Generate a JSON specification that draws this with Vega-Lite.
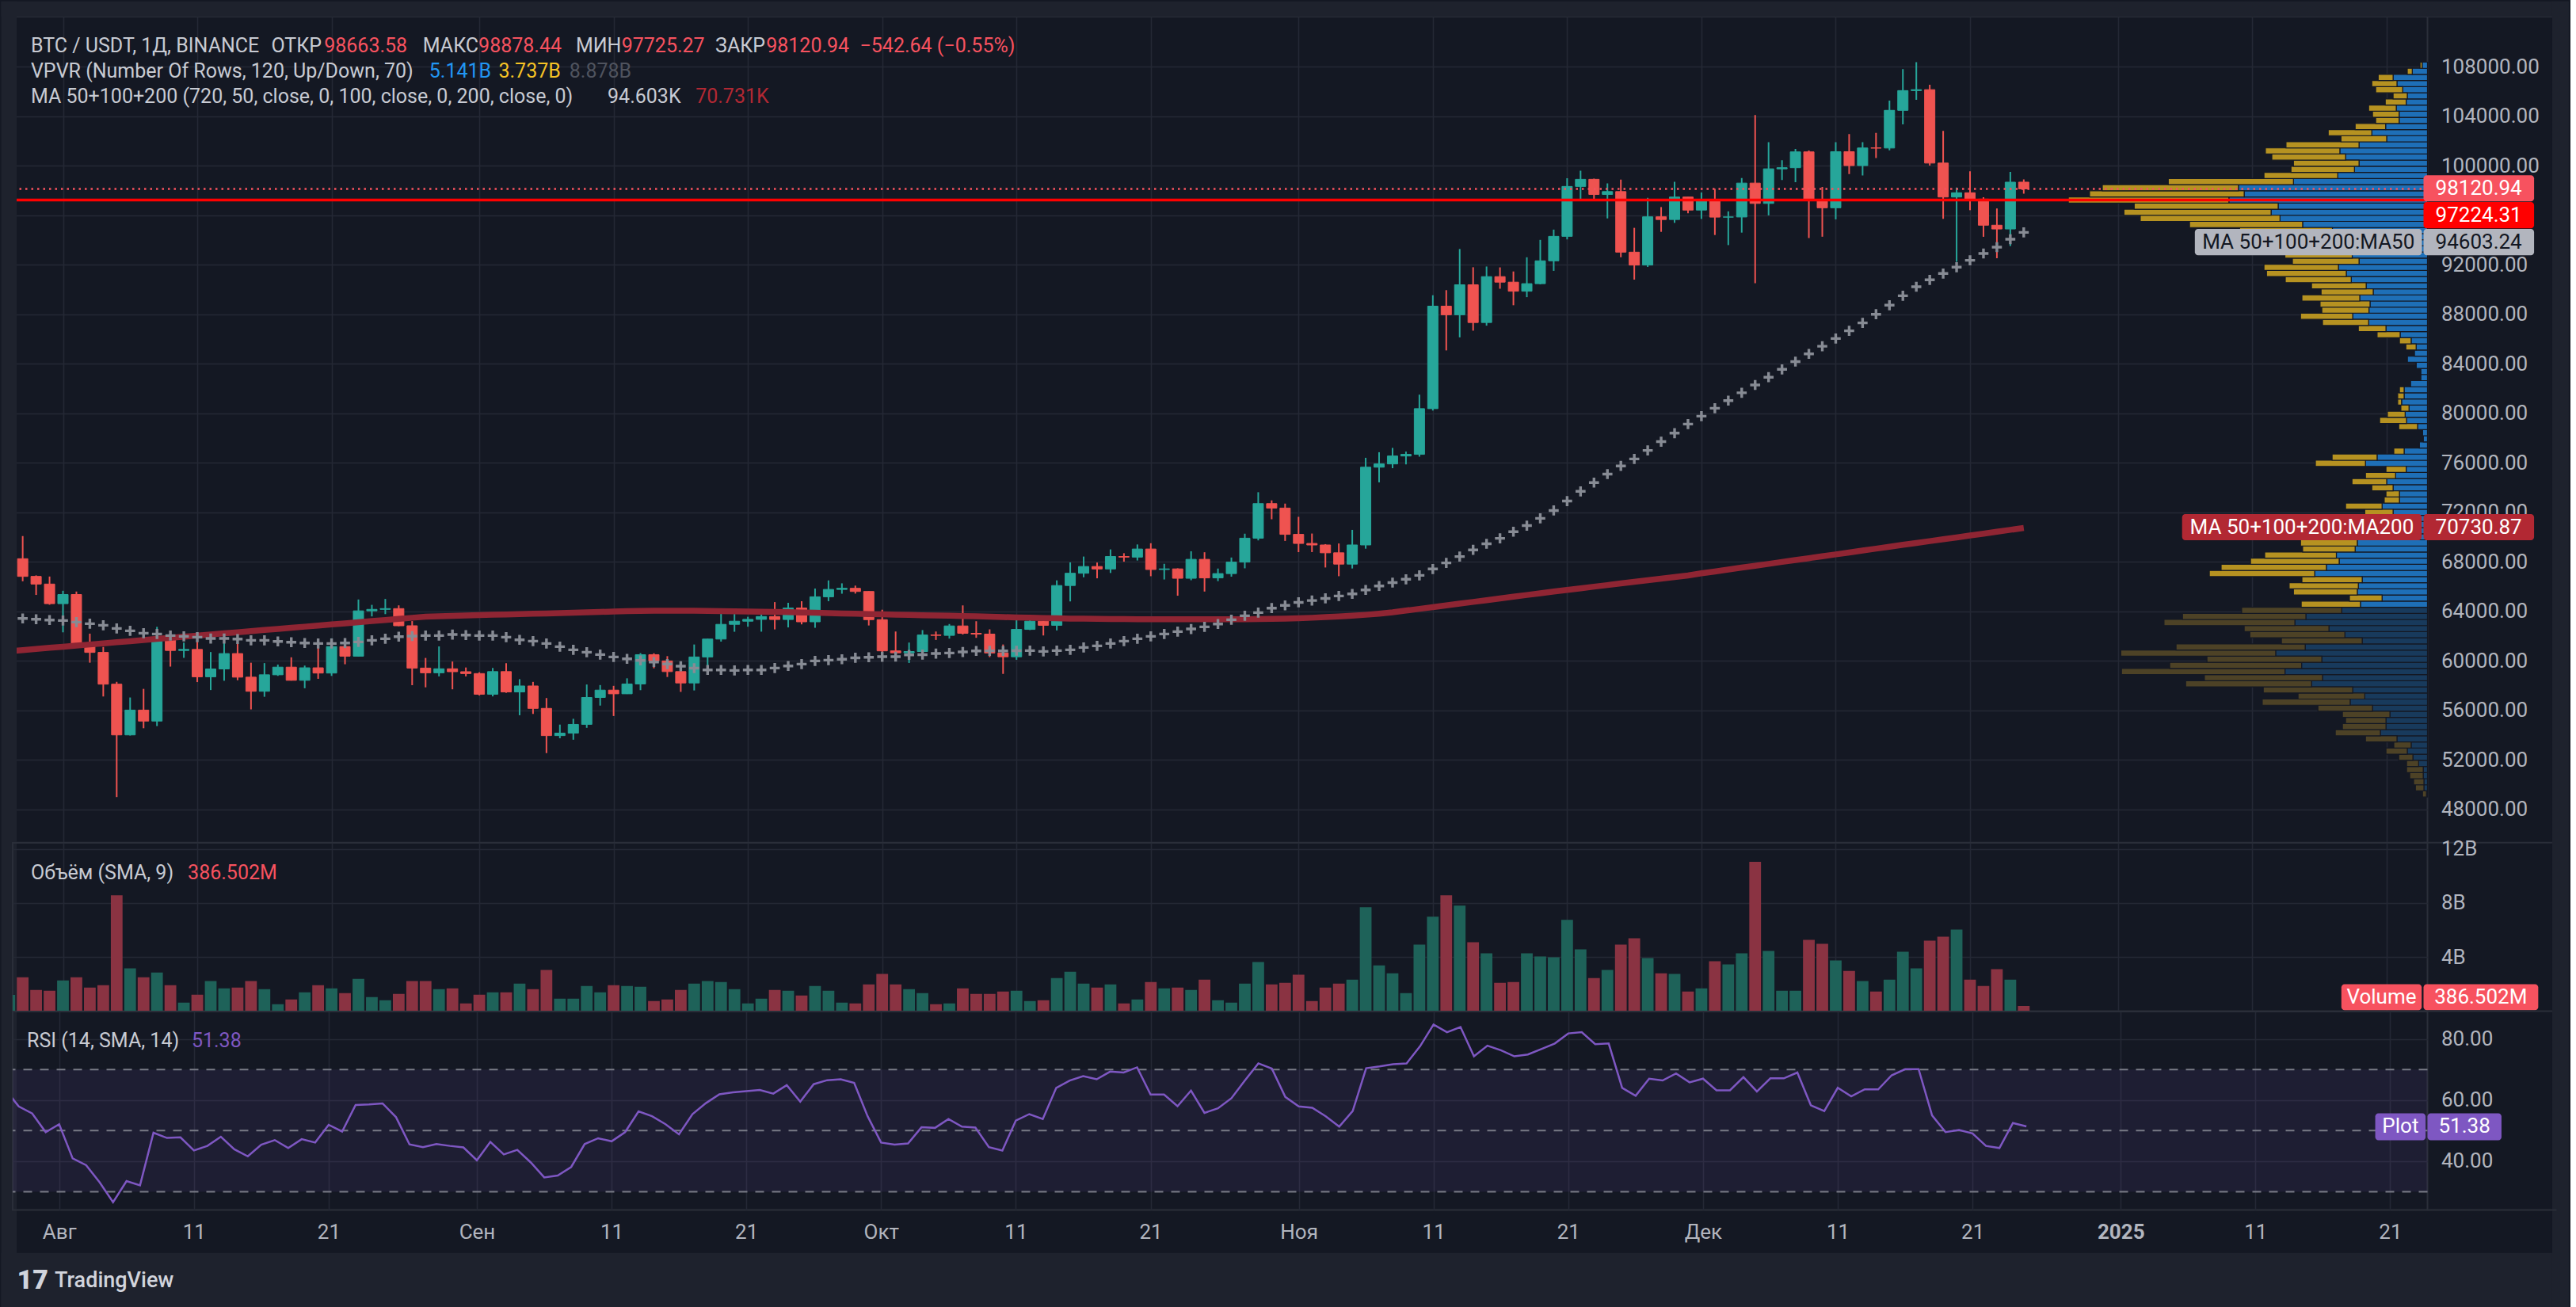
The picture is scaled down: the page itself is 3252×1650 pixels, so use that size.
{
  "$schema": "https://vega.github.io/schema/vega-lite/v6.json",
  "padding": 0,
  "background": "#141823",
  "config": {
    "view": {"stroke": "#2a2e39", "strokeWidth": 2},
    "axis": {"labelFont": "Roboto", "labelFontSize": 26, "labelColor": "#b2b5be", "gridColor": "#242835", "gridWidth": 1.5, "domain": false, "ticks": false, "tickSize": 0, "labelOverlap": false, "labelFlush": false},
    "text": {"font": "Roboto"}
  },
  "datasets": {
    "daily": [
      {"d":"2024-07-28","o":67896,"h":68318,"l":67066,"c":68249,"v":1.2,"r":63.5,"m50":63480,"m200":60780},
      {"d":"2024-07-29","o":68249,"h":70079,"l":66428,"c":66819,"v":2.51,"r":57.9,"m50":63426,"m200":60870},
      {"d":"2024-07-30","o":66819,"h":66900,"l":65323,"c":66201,"v":1.57,"r":55.6,"m50":63362,"m200":60960},
      {"d":"2024-07-31","o":66201,"h":66810,"l":64532,"c":64619,"v":1.51,"r":49.5,"m50":63298,"m200":61050},
      {"d":"2024-08-01","o":64619,"h":65659,"l":62302,"c":65357,"v":2.27,"r":52.1,"m50":63255,"m200":61140},
      {"d":"2024-08-02","o":65357,"h":65596,"l":61130,"c":61415,"v":2.51,"r":40.9,"m50":63130,"m200":61230},
      {"d":"2024-08-03","o":61415,"h":62198,"l":59850,"c":60680,"v":1.75,"r":38.7,"m50":63000,"m200":61320},
      {"d":"2024-08-04","o":60680,"h":61122,"l":57122,"c":58116,"v":1.92,"r":33.1,"m50":62871,"m200":61410},
      {"d":"2024-08-05","o":58116,"h":58305,"l":49000,"c":54018,"v":8.57,"r":26.6,"m50":62615,"m200":61500},
      {"d":"2024-08-06","o":54018,"h":57040,"l":53968,"c":56022,"v":3.16,"r":33.5,"m50":62423,"m200":61590},
      {"d":"2024-08-07","o":56022,"h":57736,"l":54558,"c":55134,"v":2.51,"r":32.1,"m50":62231,"m200":61680},
      {"d":"2024-08-08","o":55134,"h":62745,"l":54730,"c":61685,"v":2.86,"r":49.3,"m50":62167,"m200":61770},
      {"d":"2024-08-09","o":61686,"h":61744,"l":59535,"c":60837,"v":1.92,"r":47.6,"m50":62039,"m200":61860},
      {"d":"2024-08-10","o":60837,"h":61470,"l":60242,"c":60923,"v":0.63,"r":47.8,"m50":61975,"m200":61950},
      {"d":"2024-08-11","o":60923,"h":61858,"l":58286,"c":58712,"v":1.22,"r":43.5,"m50":61911,"m200":62040},
      {"d":"2024-08-12","o":58712,"h":60711,"l":57642,"c":59346,"v":2.22,"r":45.0,"m50":61804,"m200":62130},
      {"d":"2024-08-13","o":59346,"h":61578,"l":58392,"c":60587,"v":1.69,"r":48.0,"m50":61804,"m200":62220},
      {"d":"2024-08-14","o":60587,"h":61800,"l":58433,"c":58683,"v":1.75,"r":43.9,"m50":61762,"m200":62310},
      {"d":"2024-08-15","o":58683,"h":59849,"l":56078,"c":57541,"v":2.22,"r":41.6,"m50":61655,"m200":62400},
      {"d":"2024-08-16","o":57541,"h":59817,"l":57098,"c":58874,"v":1.63,"r":45.4,"m50":61655,"m200":62490},
      {"d":"2024-08-17","o":58874,"h":59700,"l":58786,"c":59491,"v":0.51,"r":46.9,"m50":61570,"m200":62580},
      {"d":"2024-08-18","o":59491,"h":60284,"l":58408,"c":58427,"v":0.86,"r":44.3,"m50":61506,"m200":62670},
      {"d":"2024-08-19","o":58427,"h":59617,"l":57787,"c":59438,"v":1.39,"r":47.2,"m50":61442,"m200":62760},
      {"d":"2024-08-20","o":59438,"h":61400,"l":58548,"c":59013,"v":1.92,"r":46.1,"m50":61399,"m200":62850},
      {"d":"2024-08-21","o":59013,"h":61820,"l":58783,"c":61156,"v":1.69,"r":51.9,"m50":61399,"m200":62940},
      {"d":"2024-08-22","o":61156,"h":61400,"l":59724,"c":60375,"v":1.33,"r":49.7,"m50":61442,"m200":63030},
      {"d":"2024-08-23","o":60375,"h":64955,"l":60342,"c":64037,"v":2.39,"r":58.4,"m50":61530,"m200":63120},
      {"d":"2024-08-24","o":64037,"h":64522,"l":63590,"c":64157,"v":1.04,"r":58.6,"m50":61655,"m200":63210},
      {"d":"2024-08-25","o":64157,"h":65000,"l":63773,"c":64220,"v":0.80,"r":58.9,"m50":61783,"m200":63300},
      {"d":"2024-08-26","o":64219,"h":64481,"l":62800,"c":62834,"v":1.27,"r":54.4,"m50":61954,"m200":63390},
      {"d":"2024-08-27","o":62834,"h":63212,"l":58034,"c":59415,"v":2.22,"r":45.5,"m50":62000,"m200":63480},
      {"d":"2024-08-28","o":59415,"h":60234,"l":57860,"c":59034,"v":2.22,"r":44.6,"m50":62039,"m200":63570},
      {"d":"2024-08-29","o":59034,"h":61166,"l":58745,"c":59359,"v":1.63,"r":45.6,"m50":62040,"m200":63600},
      {"d":"2024-08-30","o":59359,"h":59944,"l":57701,"c":59123,"v":1.69,"r":45.0,"m50":62125,"m200":63630},
      {"d":"2024-08-31","o":59123,"h":59462,"l":58744,"c":58973,"v":0.57,"r":44.5,"m50":62082,"m200":63660},
      {"d":"2024-09-01","o":58974,"h":59076,"l":57201,"c":57301,"v":1.22,"r":40.3,"m50":62040,"m200":63690},
      {"d":"2024-09-02","o":57301,"h":59425,"l":57128,"c":59132,"v":1.39,"r":46.3,"m50":62040,"m200":63720},
      {"d":"2024-09-03","o":59132,"h":59809,"l":57415,"c":57487,"v":1.39,"r":42.2,"m50":61912,"m200":63750},
      {"d":"2024-09-04","o":57487,"h":58520,"l":55606,"c":57971,"v":2.04,"r":43.7,"m50":61698,"m200":63775},
      {"d":"2024-09-05","o":57971,"h":58300,"l":55712,"c":56160,"v":1.63,"r":39.6,"m50":61592,"m200":63800},
      {"d":"2024-09-06","o":56160,"h":56995,"l":52550,"c":53962,"v":3.04,"r":34.7,"m50":61400,"m200":63830},
      {"d":"2024-09-07","o":53962,"h":54850,"l":53745,"c":54160,"v":0.92,"r":35.3,"m50":61144,"m200":63860},
      {"d":"2024-09-08","o":54160,"h":55318,"l":53629,"c":54869,"v":0.92,"r":38.1,"m50":60888,"m200":63890},
      {"d":"2024-09-09","o":54869,"h":58088,"l":54591,"c":57042,"v":1.86,"r":45.6,"m50":60696,"m200":63920},
      {"d":"2024-09-10","o":57042,"h":58044,"l":56386,"c":57635,"v":1.39,"r":47.5,"m50":60504,"m200":63950},
      {"d":"2024-09-11","o":57635,"h":57981,"l":55545,"c":57338,"v":1.92,"r":46.5,"m50":60312,"m200":63980},
      {"d":"2024-09-12","o":57338,"h":58588,"l":57324,"c":58132,"v":1.86,"r":49.5,"m50":60162,"m200":64010},
      {"d":"2024-09-13","o":58132,"h":60625,"l":57632,"c":60498,"v":1.80,"r":56.3,"m50":60030,"m200":64030},
      {"d":"2024-09-14","o":60498,"h":60610,"l":59400,"c":59993,"v":0.75,"r":54.7,"m50":59906,"m200":64045},
      {"d":"2024-09-15","o":59993,"h":60380,"l":58696,"c":59132,"v":0.86,"r":52.1,"m50":59740,"m200":64050},
      {"d":"2024-09-16","o":59132,"h":59210,"l":57493,"c":58213,"v":1.57,"r":48.8,"m50":59565,"m200":64050},
      {"d":"2024-09-17","o":58213,"h":61320,"l":57610,"c":60313,"v":2.04,"r":55.4,"m50":59410,"m200":64045},
      {"d":"2024-09-18","o":60313,"h":61786,"l":59174,"c":61759,"v":2.22,"r":59.0,"m50":59266,"m200":64035},
      {"d":"2024-09-19","o":61759,"h":63850,"l":61555,"c":62947,"v":2.16,"r":61.9,"m50":59266,"m200":64020},
      {"d":"2024-09-20","o":62947,"h":64133,"l":62350,"c":63201,"v":1.63,"r":62.5,"m50":59224,"m200":64005},
      {"d":"2024-09-21","o":63201,"h":63559,"l":62758,"c":63348,"v":0.57,"r":62.9,"m50":59266,"m200":63990},
      {"d":"2024-09-22","o":63348,"h":64000,"l":62357,"c":63578,"v":0.92,"r":63.3,"m50":59266,"m200":63970},
      {"d":"2024-09-23","o":63578,"h":64745,"l":62538,"c":63339,"v":1.57,"r":62.1,"m50":59416,"m200":63950},
      {"d":"2024-09-24","o":63339,"h":64688,"l":62700,"c":64262,"v":1.51,"r":64.9,"m50":59586,"m200":63930},
      {"d":"2024-09-25","o":64262,"h":64817,"l":62947,"c":63152,"v":1.16,"r":59.5,"m50":59736,"m200":63905},
      {"d":"2024-09-26","o":63152,"h":65839,"l":62670,"c":65173,"v":1.86,"r":65.2,"m50":59992,"m200":63880},
      {"d":"2024-09-27","o":65173,"h":66498,"l":64819,"c":65769,"v":1.51,"r":66.5,"m50":60056,"m200":63855},
      {"d":"2024-09-28","o":65769,"h":66260,"l":65422,"c":65858,"v":0.63,"r":66.8,"m50":60130,"m200":63830},
      {"d":"2024-09-29","o":65858,"h":66076,"l":65432,"c":65602,"v":0.57,"r":65.6,"m50":60246,"m200":63805},
      {"d":"2024-09-30","o":65602,"h":65618,"l":62856,"c":63327,"v":1.98,"r":54.7,"m50":60289,"m200":63780},
      {"d":"2024-10-01","o":63327,"h":64130,"l":60164,"c":60805,"v":2.75,"r":46.1,"m50":60332,"m200":63755},
      {"d":"2024-10-02","o":60805,"h":62370,"l":60000,"c":60649,"v":1.98,"r":45.4,"m50":60340,"m200":63730},
      {"d":"2024-10-03","o":60649,"h":61477,"l":59828,"c":60752,"v":1.63,"r":45.8,"m50":60481,"m200":63705},
      {"d":"2024-10-04","o":60752,"h":62484,"l":60459,"c":62086,"v":1.33,"r":51.1,"m50":60502,"m200":63685},
      {"d":"2024-10-05","o":62086,"h":62370,"l":61689,"c":62058,"v":0.51,"r":50.9,"m50":60588,"m200":63665},
      {"d":"2024-10-06","o":62058,"h":62975,"l":61798,"c":62819,"v":0.57,"r":53.8,"m50":60631,"m200":63645},
      {"d":"2024-10-07","o":62819,"h":64478,"l":62128,"c":62224,"v":1.69,"r":51.3,"m50":60716,"m200":63620},
      {"d":"2024-10-08","o":62224,"h":63200,"l":61860,"c":62160,"v":1.27,"r":51.0,"m50":60801,"m200":63595},
      {"d":"2024-10-09","o":62160,"h":62543,"l":60301,"c":60636,"v":1.27,"r":44.6,"m50":60810,"m200":63565},
      {"d":"2024-10-10","o":60636,"h":61321,"l":58946,"c":60326,"v":1.45,"r":43.5,"m50":60801,"m200":63535},
      {"d":"2024-10-11","o":60326,"h":63417,"l":60087,"c":62540,"v":1.51,"r":53.3,"m50":60815,"m200":63505},
      {"d":"2024-10-12","o":62540,"h":63480,"l":62487,"c":63207,"v":0.75,"r":55.4,"m50":60823,"m200":63480},
      {"d":"2024-10-13","o":63207,"h":63285,"l":62050,"c":62870,"v":0.80,"r":53.8,"m50":60759,"m200":63455},
      {"d":"2024-10-14","o":62870,"h":66500,"l":62457,"c":66083,"v":2.45,"r":64.0,"m50":60823,"m200":63435},
      {"d":"2024-10-15","o":66084,"h":67950,"l":64800,"c":67074,"v":2.92,"r":66.4,"m50":60887,"m200":63415},
      {"d":"2024-10-16","o":67075,"h":68424,"l":66750,"c":67620,"v":2.04,"r":67.8,"m50":61079,"m200":63400},
      {"d":"2024-10-17","o":67620,"h":67939,"l":66666,"c":67421,"v":1.75,"r":66.8,"m50":61207,"m200":63385},
      {"d":"2024-10-18","o":67421,"h":69000,"l":67096,"c":68428,"v":1.98,"r":69.3,"m50":61399,"m200":63375},
      {"d":"2024-10-19","o":68428,"h":68693,"l":68010,"c":68378,"v":0.57,"r":69.0,"m50":61590,"m200":63368},
      {"d":"2024-10-20","o":68378,"h":69400,"l":68105,"c":69031,"v":0.86,"r":70.7,"m50":61782,"m200":63362},
      {"d":"2024-10-21","o":69032,"h":69500,"l":66835,"c":67377,"v":2.16,"r":61.8,"m50":61974,"m200":63360},
      {"d":"2024-10-22","o":67377,"h":67836,"l":66571,"c":67426,"v":1.69,"r":61.8,"m50":62166,"m200":63358},
      {"d":"2024-10-23","o":67426,"h":67472,"l":65260,"c":66668,"v":1.75,"r":58.0,"m50":62359,"m200":63356},
      {"d":"2024-10-24","o":66668,"h":68850,"l":66510,"c":68198,"v":1.57,"r":63.1,"m50":62572,"m200":63355},
      {"d":"2024-10-25","o":68198,"h":68771,"l":65596,"c":66698,"v":2.33,"r":55.8,"m50":62742,"m200":63355},
      {"d":"2024-10-26","o":66698,"h":67454,"l":66439,"c":67047,"v":0.80,"r":57.3,"m50":62977,"m200":63356},
      {"d":"2024-10-27","o":67047,"h":68346,"l":66800,"c":67976,"v":0.63,"r":60.6,"m50":63318,"m200":63360},
      {"d":"2024-10-28","o":67976,"h":70270,"l":67473,"c":69907,"v":2.04,"r":66.4,"m50":63638,"m200":63366},
      {"d":"2024-10-29","o":69907,"h":73620,"l":69729,"c":72700,"v":3.63,"r":72.0,"m50":63894,"m200":63375},
      {"d":"2024-10-30","o":72700,"h":72961,"l":71436,"c":72339,"v":1.98,"r":70.3,"m50":64260,"m200":63390},
      {"d":"2024-10-31","o":72339,"h":72700,"l":69685,"c":70215,"v":2.10,"r":61.0,"m50":64480,"m200":63410},
      {"d":"2024-11-01","o":70216,"h":71632,"l":68779,"c":69482,"v":2.69,"r":57.9,"m50":64724,"m200":63440},
      {"d":"2024-11-02","o":69482,"h":70282,"l":68786,"c":69358,"v":0.75,"r":57.5,"m50":64872,"m200":63480},
      {"d":"2024-11-03","o":69358,"h":69425,"l":67540,"c":68727,"v":1.75,"r":54.7,"m50":65043,"m200":63530},
      {"d":"2024-11-04","o":68728,"h":69480,"l":66835,"c":67811,"v":2.04,"r":51.3,"m50":65239,"m200":63590},
      {"d":"2024-11-05","o":67811,"h":70577,"l":67459,"c":69359,"v":2.33,"r":56.4,"m50":65410,"m200":63650},
      {"d":"2024-11-06","o":69359,"h":76400,"l":69058,"c":75640,"v":7.69,"r":70.4,"m50":65729,"m200":63720},
      {"d":"2024-11-07","o":75640,"h":76850,"l":74417,"c":75904,"v":3.39,"r":71.0,"m50":66047,"m200":63810},
      {"d":"2024-11-08","o":75904,"h":77199,"l":75560,"c":76545,"v":2.80,"r":71.7,"m50":66317,"m200":63920},
      {"d":"2024-11-09","o":76545,"h":76900,"l":75868,"c":76678,"v":1.33,"r":72.0,"m50":66586,"m200":64060},
      {"d":"2024-11-10","o":76678,"h":81500,"l":76492,"c":80370,"v":4.92,"r":77.6,"m50":66904,"m200":64200},
      {"d":"2024-11-11","o":80370,"h":89530,"l":80216,"c":88647,"v":6.98,"r":84.7,"m50":67419,"m200":64340},
      {"d":"2024-11-12","o":88648,"h":89940,"l":85072,"c":87952,"v":8.57,"r":82.2,"m50":67909,"m200":64480},
      {"d":"2024-11-13","o":87953,"h":93265,"l":86127,"c":90376,"v":7.80,"r":83.9,"m50":68422,"m200":64620},
      {"d":"2024-11-14","o":90375,"h":91790,"l":86668,"c":87325,"v":5.10,"r":74.3,"m50":68963,"m200":64760},
      {"d":"2024-11-15","o":87326,"h":91850,"l":87073,"c":91032,"v":4.27,"r":77.8,"m50":69452,"m200":64900},
      {"d":"2024-11-16","o":91032,"h":91779,"l":90056,"c":90587,"v":2.10,"r":76.3,"m50":69893,"m200":65040},
      {"d":"2024-11-17","o":90587,"h":91449,"l":88722,"c":89855,"v":2.16,"r":74.3,"m50":70432,"m200":65180},
      {"d":"2024-11-18","o":89855,"h":92594,"l":89376,"c":90465,"v":4.27,"r":74.9,"m50":70922,"m200":65320},
      {"d":"2024-11-19","o":90465,"h":94002,"l":90406,"c":92310,"v":4.04,"r":76.7,"m50":71509,"m200":65460},
      {"d":"2024-11-20","o":92310,"h":94831,"l":91500,"c":94286,"v":3.98,"r":78.5,"m50":72146,"m200":65600},
      {"d":"2024-11-21","o":94287,"h":98988,"l":94040,"c":98317,"v":6.75,"r":81.8,"m50":72905,"m200":65730},
      {"d":"2024-11-22","o":98318,"h":99588,"l":97122,"c":98892,"v":4.57,"r":82.2,"m50":73688,"m200":65860},
      {"d":"2024-11-23","o":98893,"h":98949,"l":97136,"c":97672,"v":2.45,"r":78.3,"m50":74398,"m200":65990},
      {"d":"2024-11-24","o":97673,"h":98564,"l":95735,"c":97901,"v":3.04,"r":78.5,"m50":75084,"m200":66120},
      {"d":"2024-11-25","o":97901,"h":98871,"l":92600,"c":93010,"v":4.92,"r":64.0,"m50":75745,"m200":66250},
      {"d":"2024-11-26","o":93010,"h":94974,"l":90791,"c":91965,"v":5.39,"r":61.4,"m50":76308,"m200":66380},
      {"d":"2024-11-27","o":91966,"h":97400,"l":91817,"c":95864,"v":3.92,"r":67.0,"m50":76994,"m200":66510},
      {"d":"2024-11-28","o":95865,"h":96650,"l":94650,"c":95643,"v":2.80,"r":66.4,"m50":77704,"m200":66640},
      {"d":"2024-11-29","o":95644,"h":98693,"l":95376,"c":97460,"v":2.75,"r":68.7,"m50":78390,"m200":66770},
      {"d":"2024-11-30","o":97461,"h":97464,"l":96150,"c":96407,"v":1.45,"r":65.8,"m50":79125,"m200":66900},
      {"d":"2024-12-01","o":96408,"h":97836,"l":95693,"c":97185,"v":1.69,"r":67.0,"m50":79762,"m200":67070},
      {"d":"2024-12-02","o":97185,"h":98130,"l":94395,"c":95840,"v":3.69,"r":63.2,"m50":80400,"m200":67220},
      {"d":"2024-12-03","o":95840,"h":96305,"l":93579,"c":95849,"v":3.45,"r":63.2,"m50":81020,"m200":67370},
      {"d":"2024-12-04","o":95850,"h":99000,"l":94588,"c":98587,"v":4.27,"r":67.5,"m50":81650,"m200":67530},
      {"d":"2024-12-05","o":98587,"h":104088,"l":90500,"c":96945,"v":11.04,"r":62.8,"m50":82280,"m200":67680},
      {"d":"2024-12-06","o":96945,"h":101898,"l":95981,"c":99740,"v":4.45,"r":67.1,"m50":82910,"m200":67830},
      {"d":"2024-12-07","o":99740,"h":100439,"l":98844,"c":99831,"v":1.51,"r":67.1,"m50":83540,"m200":67990},
      {"d":"2024-12-08","o":99831,"h":101351,"l":98657,"c":101109,"v":1.51,"r":69.0,"m50":84170,"m200":68140},
      {"d":"2024-12-09","o":101109,"h":101215,"l":94150,"c":97276,"v":5.27,"r":58.3,"m50":84790,"m200":68290},
      {"d":"2024-12-10","o":97276,"h":98270,"l":94256,"c":96593,"v":4.98,"r":56.4,"m50":85410,"m200":68450},
      {"d":"2024-12-11","o":96593,"h":101888,"l":95658,"c":101125,"v":3.75,"r":64.0,"m50":86030,"m200":68600},
      {"d":"2024-12-12","o":101126,"h":102540,"l":99311,"c":100000,"v":2.98,"r":61.2,"m50":86654,"m200":68750},
      {"d":"2024-12-13","o":100000,"h":101895,"l":99205,"c":101424,"v":2.22,"r":63.5,"m50":87294,"m200":68910},
      {"d":"2024-12-14","o":101424,"h":102650,"l":100609,"c":101420,"v":1.45,"r":63.5,"m50":87997,"m200":69060},
      {"d":"2024-12-15","o":101420,"h":105250,"l":101237,"c":104463,"v":2.33,"r":68.1,"m50":88723,"m200":69210},
      {"d":"2024-12-16","o":104463,"h":107793,"l":103333,"c":106058,"v":4.39,"r":70.1,"m50":89490,"m200":69370},
      {"d":"2024-12-17","o":106058,"h":108353,"l":105321,"c":106133,"v":3.16,"r":70.1,"m50":90216,"m200":69520},
      {"d":"2024-12-18","o":106133,"h":106524,"l":100000,"c":100204,"v":5.22,"r":55.0,"m50":90770,"m200":69670},
      {"d":"2024-12-19","o":100204,"h":102800,"l":95700,"c":97461,"v":5.51,"r":49.5,"m50":91282,"m200":69820},
      {"d":"2024-12-20","o":97461,"h":98233,"l":92232,"c":97805,"v":6.04,"r":50.2,"m50":91794,"m200":69970},
      {"d":"2024-12-21","o":97805,"h":99540,"l":96398,"c":97291,"v":2.33,"r":49.1,"m50":92349,"m200":70120},
      {"d":"2024-12-22","o":97292,"h":97448,"l":94250,"c":95186,"v":1.86,"r":45.0,"m50":92902,"m200":70270},
      {"d":"2024-12-23","o":95187,"h":96539,"l":92520,"c":94881,"v":3.10,"r":44.3,"m50":93414,"m200":70430},
      {"d":"2024-12-24","o":94882,"h":99487,"l":93501,"c":98663,"v":2.33,"r":52.5,"m50":94055,"m200":70580},
      {"d":"2024-12-25","o":98663.58,"h":98878.44,"l":97725.27,"c":98120.94,"v":0.3865,"r":51.38,"m50":94603.24,"m200":70730.87}
    ],
    "vp": [
      {"lo":49000,"hi":49495,"up":1.3,"tot":6.3},{"lo":49495,"hi":49989,"up":4.5,"tot":15.2},{"lo":49989,"hi":50484,"up":4.5,"tot":17.5},
      {"lo":50484,"hi":50978,"up":5.4,"tot":22.4},{"lo":50978,"hi":51473,"up":5.4,"tot":26.4},{"lo":51473,"hi":51968,"up":11.2,"tot":26.4},
      {"lo":51968,"hi":52462,"up":18.4,"tot":36.3},{"lo":52462,"hi":52957,"up":25.5,"tot":52.4},{"lo":52957,"hi":53451,"up":20.6,"tot":42.5},
      {"lo":53451,"hi":53946,"up":38.5,"tot":78.3},{"lo":53946,"hi":54441,"up":59.5,"tot":116.4},{"lo":54441,"hi":54935,"up":52.4,"tot":107.4},
      {"lo":54935,"hi":55430,"up":52.4,"tot":103.4},{"lo":55430,"hi":55925,"up":47.4,"tot":107.4},{"lo":55925,"hi":56419,"up":69.4,"tot":138.3},
      {"lo":56419,"hi":56914,"up":97.6,"tot":208.6},{"lo":56914,"hi":57408,"up":79.2,"tot":163.4},{"lo":57408,"hi":57903,"up":94.4,"tot":207.3},
      {"lo":57903,"hi":58398,"up":146.4,"tot":305.3},{"lo":58398,"hi":58892,"up":132.5,"tot":281.6},{"lo":58892,"hi":59387,"up":179.9,"tot":386.3},
      {"lo":59387,"hi":59881,"up":158.9,"tot":325.4},{"lo":59881,"hi":60376,"up":133.4,"tot":278.4},{"lo":60376,"hi":60871,"up":191.6,"tot":387.2},
      {"lo":60871,"hi":61365,"up":154.4,"tot":317.4},{"lo":61365,"hi":61860,"up":82.4,"tot":184.4},{"lo":61860,"hi":62354,"up":104.3,"tot":224.3},
      {"lo":62354,"hi":62849,"up":124.4,"tot":231.4},{"lo":62849,"hi":63344,"up":167.4,"tot":332.6},{"lo":63344,"hi":63838,"up":153.5,"tot":309.3},
      {"lo":63838,"hi":64333,"up":108.3,"tot":234.6},{"lo":64333,"hi":64828,"up":84.6,"tot":159.4},{"lo":64828,"hi":65322,"up":57.3,"tot":98.5},
      {"lo":65322,"hi":65817,"up":88.6,"tot":169.2},{"lo":65817,"hi":66311,"up":87.3,"tot":174.6},{"lo":66311,"hi":66806,"up":82.4,"tot":158.5},
      {"lo":66806,"hi":67301,"up":142.4,"tot":275.4},{"lo":67301,"hi":67795,"up":127.6,"tot":260.5},{"lo":67795,"hi":68290,"up":111.5,"tot":223.4},
      {"lo":68290,"hi":68784,"up":115,"tot":205.5},{"lo":68784,"hi":69279,"up":91.3,"tot":157.6},{"lo":69279,"hi":69774,"up":88.6,"tot":160.3},
      {"lo":69774,"hi":70268,"up":85,"tot":160},{"lo":70268,"hi":70763,"up":75,"tot":150},{"lo":70763,"hi":71257,"up":65,"tot":130},
      {"lo":71257,"hi":71752,"up":55,"tot":110},{"lo":71752,"hi":72247,"up":43.4,"tot":79.2},{"lo":72247,"hi":72741,"up":57.3,"tot":103.4},
      {"lo":72741,"hi":73236,"up":35.4,"tot":54.6},{"lo":73236,"hi":73731,"up":35.4,"tot":52.4},{"lo":73731,"hi":74225,"up":43.4,"tot":70.3},
      {"lo":74225,"hi":74720,"up":51.5,"tot":95.3},{"lo":74720,"hi":75214,"up":40.3,"tot":78.3},{"lo":75214,"hi":75709,"up":26.9,"tot":52.4},
      {"lo":75709,"hi":76204,"up":78.3,"tot":141.5},{"lo":76204,"hi":76698,"up":63.6,"tot":120.4},{"lo":76698,"hi":77193,"up":29.5,"tot":42.5},
      {"lo":77193,"hi":77687,"up":10.3,"tot":10.3},{"lo":77687,"hi":78182,"up":5.4,"tot":5.4},{"lo":78182,"hi":78677,"up":6.3,"tot":6.3},
      {"lo":78677,"hi":79171,"up":12.5,"tot":36.3},{"lo":79171,"hi":79666,"up":26.4,"tot":60.4},{"lo":79666,"hi":80160,"up":28.2,"tot":50.6},
      {"lo":80160,"hi":80655,"up":23.3,"tot":33.6},{"lo":80655,"hi":81150,"up":32.7,"tot":37.6},{"lo":81150,"hi":81644,"up":29.5,"tot":37.6},
      {"lo":81644,"hi":82139,"up":29.5,"tot":35.4},{"lo":82139,"hi":82633,"up":21.5,"tot":21.5},{"lo":82633,"hi":83128,"up":8.5,"tot":8.5},
      {"lo":83128,"hi":83623,"up":8.5,"tot":8.5},{"lo":83623,"hi":84117,"up":14.3,"tot":14.3},{"lo":84117,"hi":84612,"up":25.5,"tot":25.5},
      {"lo":84612,"hi":85107,"up":16.6,"tot":16.6},{"lo":85107,"hi":85601,"up":14.3,"tot":27.3},{"lo":85601,"hi":86096,"up":20.6,"tot":35.4},
      {"lo":86096,"hi":86590,"up":34.5,"tot":63.6},{"lo":86590,"hi":87085,"up":52.4,"tot":87.3},{"lo":87085,"hi":87580,"up":74.3,"tot":132.5},
      {"lo":87580,"hi":88074,"up":94.4,"tot":160.3},{"lo":88074,"hi":88569,"up":73.9,"tot":133.4},{"lo":88569,"hi":89063,"up":72.5,"tot":135.6},
      {"lo":89063,"hi":89558,"up":85.5,"tot":158.5},{"lo":89558,"hi":90053,"up":68.5,"tot":134.3},{"lo":90053,"hi":90547,"up":77.4,"tot":146.4},
      {"lo":90547,"hi":91042,"up":96.2,"tot":179.5},{"lo":91042,"hi":91536,"up":102.5,"tot":203.2},{"lo":91536,"hi":92031,"up":112.4,"tot":206.4},
      {"lo":92031,"hi":92526,"up":86.4,"tot":170.5},{"lo":92526,"hi":93020,"up":95,"tot":180},{"lo":93020,"hi":93515,"up":100,"tot":200},
      {"lo":93515,"hi":94010,"up":110,"tot":220},{"lo":94010,"hi":94504,"up":115,"tot":230},{"lo":94504,"hi":94999,"up":120,"tot":237.2},
      {"lo":94999,"hi":95493,"up":157.6,"tot":300.4},{"lo":95493,"hi":95988,"up":186.2,"tot":362.6},{"lo":95988,"hi":96483,"up":197.4,"tot":383.2},
      {"lo":96483,"hi":96977,"up":188.5,"tot":370.2},{"lo":96977,"hi":97472,"up":250.7,"tot":453.4},{"lo":97472,"hi":97966,"up":231.4,"tot":426.6},
      {"lo":97966,"hi":98461,"up":238.6,"tot":410.5},{"lo":98461,"hi":98956,"up":169.2,"tot":327.2},{"lo":98956,"hi":99450,"up":113.3,"tot":206.4},
      {"lo":99450,"hi":99945,"up":92.2,"tot":172.3},{"lo":99945,"hi":100439,"up":86.4,"tot":169.2},{"lo":100439,"hi":100934,"up":103.4,"tot":196.5},
      {"lo":100934,"hi":101429,"up":110.6,"tot":204.6},{"lo":101429,"hi":101923,"up":86.4,"tot":178.6},{"lo":101923,"hi":102418,"up":51.5,"tot":109.2},
      {"lo":102418,"hi":102912,"up":70.3,"tot":125.3},{"lo":102912,"hi":103407,"up":52.8,"tot":91.3},{"lo":103407,"hi":103902,"up":35.8,"tot":65.4},
      {"lo":103902,"hi":104396,"up":35.8,"tot":69.4},{"lo":104396,"hi":104891,"up":39.4,"tot":74.3},{"lo":104891,"hi":105386,"up":26.9,"tot":53.3},
      {"lo":105386,"hi":105880,"up":25.5,"tot":43.4},{"lo":105880,"hi":106375,"up":31.3,"tot":65.4},{"lo":106375,"hi":106869,"up":38.5,"tot":70.3},
      {"lo":106869,"hi":107364,"up":43.4,"tot":62.2},{"lo":107364,"hi":107858,"up":19.2,"tot":25.5},{"lo":107858,"hi":108353,"up":6.7,"tot":9.4}
    ]
  },
  "spacing": 0,
  "bounds": "flush",
  "vconcat": [
    {
      "width": 3048.5,
      "height": 1042.7,
      "resolve": {"scale": {"x": "independent"}},
      "layer": [
        {
          "data": {"name": "vp"},
          "layer": [
            {
              "mark": {"type": "rect", "stroke": "#141823", "strokeWidth": 1.2},
              "encoding": {
                "x": {"field": "up", "type": "quantitative", "scale": {"domain": [0, 3048.5], "reverse": true, "nice": false, "zero": false}, "axis": null},
                "x2": {"datum": 0},
                "y": {"field": "lo", "type": "quantitative"},
                "y2": {"field": "hi"},
                "fill": {"condition": {"test": "datum.lo > 64300", "value": "#1e6fb7"}, "value": "#183a5c"}
              }
            },
            {
              "mark": {"type": "rect", "stroke": "#141823", "strokeWidth": 1.2},
              "encoding": {
                "x": {"field": "tot", "type": "quantitative"},
                "x2": {"field": "up"},
                "y": {"field": "lo", "type": "quantitative"},
                "y2": {"field": "hi"},
                "fill": {"condition": {"test": "datum.lo > 64300", "value": "#b69221"}, "value": "#4d4226"}
              }
            }
          ]
        },
        {
          "layer": [
            {
              "data": {"name": "daily"},
              "mark": {"type": "rule", "strokeWidth": 2, "clip": true},
              "encoding": {
                "x": {"field": "d", "type": "temporal",
                  "scale": {"type": "utc", "nice": false, "domain": [{"year": 2024, "month": 7, "date": 28, "hours": 13, "minutes": 11, "utc": true}, {"year": 2025, "month": 1, "date": 23, "hours": 18, "minutes": 24, "utc": true}]},
                  "axis": {"title": null, "labels": false, "grid": true, "values": [
                    {"year": 2024, "month": 8, "date": 1, "utc": true}, {"year": 2024, "month": 8, "date": 11, "utc": true}, {"year": 2024, "month": 8, "date": 21, "utc": true},
                    {"year": 2024, "month": 9, "date": 1, "utc": true}, {"year": 2024, "month": 9, "date": 11, "utc": true}, {"year": 2024, "month": 9, "date": 21, "utc": true},
                    {"year": 2024, "month": 10, "date": 1, "utc": true}, {"year": 2024, "month": 10, "date": 11, "utc": true}, {"year": 2024, "month": 10, "date": 21, "utc": true},
                    {"year": 2024, "month": 11, "date": 1, "utc": true}, {"year": 2024, "month": 11, "date": 11, "utc": true}, {"year": 2024, "month": 11, "date": 21, "utc": true},
                    {"year": 2024, "month": 12, "date": 1, "utc": true}, {"year": 2024, "month": 12, "date": 11, "utc": true}, {"year": 2024, "month": 12, "date": 21, "utc": true},
                    {"year": 2025, "month": 1, "date": 1, "utc": true}, {"year": 2025, "month": 1, "date": 11, "utc": true}, {"year": 2025, "month": 1, "date": 21, "utc": true}]}},
                "y": {"field": "l", "type": "quantitative", "scale": {"domain": [45321, 112032], "nice": false, "zero": false},
                  "axis": {"title": null, "orient": "right", "grid": true, "labelPadding": 17, "labelExpr": "datum.value == 96000 ? '' : format(datum.value, '.2f')", "values": [48000, 52000, 56000, 60000, 64000, 68000, 72000, 76000, 80000, 84000, 88000, 92000, 96000, 100000, 104000, 108000]}},
                "y2": {"field": "h"},
                "color": {"condition": {"test": "datum.c >= datum.o", "value": "#26a69a"}, "value": "#ef5350"}
              }
            },
            {
              "data": {"name": "daily"},
              "mark": {"type": "bar", "width": 13, "strokeWidth": 1, "clip": true},
              "encoding": {
                "x": {"field": "d", "type": "temporal"},
                "y": {"field": "o", "type": "quantitative"},
                "y2": {"field": "c"},
                "fill": {"condition": {"test": "datum.c >= datum.o", "value": "#26a69a"}, "value": "#ef5350"},
                "stroke": {"condition": {"test": "datum.c >= datum.o", "value": "#26a69a"}, "value": "#ef5350"}
              }
            },
            {
              "data": {"name": "daily"},
              "mark": {"type": "line", "strokeWidth": 7.5, "color": "#8f2533", "clip": true},
              "encoding": {"x": {"field": "d", "type": "temporal"}, "y": {"field": "m200", "type": "quantitative"}}
            },
            {
              "data": {"name": "daily"},
              "mark": {"type": "point", "shape": "M-1,-0.27H1V0.27H-1Z M-0.27,-1H0.27V1H-0.27Z", "filled": true, "size": 160, "color": "#878b94", "opacity": 1, "clip": true},
              "encoding": {"x": {"field": "d", "type": "temporal"}, "y": {"field": "m50", "type": "quantitative"}}
            },
            {"data": {"values": [{}]}, "mark": {"type": "rule", "color": "#ff0000", "strokeWidth": 3.5}, "encoding": {"y": {"datum": 97224.31}}},
            {"data": {"values": [{}]}, "mark": {"type": "rule", "color": "#f7525f", "strokeWidth": 2.5, "strokeDash": [2.5, 5]}, "encoding": {"y": {"datum": 98120.94}}},

            {"data": {"values": [{}]}, "mark": {"type": "text", "align": "left", "baseline": "middle", "fontSize": 25, "color": "#c8cbd3", "text": "BTC / USDT, 1Д, BINANCE"}, "encoding": {"x": {"datum": {"year": 2024, "month": 7, "date": 29, "hours": 14, "minutes": 35, "utc": true}, "type": "temporal"}, "y": {"datum": 109684}}},
            {"data": {"values": [{}]}, "mark": {"type": "text", "align": "left", "baseline": "middle", "fontSize": 25, "color": "#c8cbd3", "text": "ОТКР"}, "encoding": {"x": {"datum": {"year": 2024, "month": 8, "date": 16, "hours": 12, "minutes": 13, "utc": true}, "type": "temporal"}, "y": {"datum": 109684}}},
            {"data": {"values": [{}]}, "mark": {"type": "text", "align": "left", "baseline": "middle", "fontSize": 25, "color": "#f7525f", "text": "98663.58"}, "encoding": {"x": {"datum": {"year": 2024, "month": 8, "date": 20, "hours": 10, "minutes": 44, "utc": true}, "type": "temporal"}, "y": {"datum": 109684}}},
            {"data": {"values": [{}]}, "mark": {"type": "text", "align": "left", "baseline": "middle", "fontSize": 25, "color": "#c8cbd3", "text": "МАКС"}, "encoding": {"x": {"datum": {"year": 2024, "month": 8, "date": 27, "hours": 19, "minutes": 6, "utc": true}, "type": "temporal"}, "y": {"datum": 109684}}},
            {"data": {"values": [{}]}, "mark": {"type": "text", "align": "left", "baseline": "middle", "fontSize": 25, "color": "#f7525f", "text": "98878.44"}, "encoding": {"x": {"datum": {"year": 2024, "month": 8, "date": 31, "hours": 22, "minutes": 35, "utc": true}, "type": "temporal"}, "y": {"datum": 109684}}},
            {"data": {"values": [{}]}, "mark": {"type": "text", "align": "left", "baseline": "middle", "fontSize": 25, "color": "#c8cbd3", "text": "МИН"}, "encoding": {"x": {"datum": {"year": 2024, "month": 9, "date": 8, "hours": 4, "minutes": 25, "utc": true}, "type": "temporal"}, "y": {"datum": 109684}}},
            {"data": {"values": [{}]}, "mark": {"type": "text", "align": "left", "baseline": "middle", "fontSize": 25, "color": "#f7525f", "text": "97725.27"}, "encoding": {"x": {"datum": {"year": 2024, "month": 9, "date": 11, "hours": 14, "minutes": 14, "utc": true}, "type": "temporal"}, "y": {"datum": 109684}}},
            {"data": {"values": [{}]}, "mark": {"type": "text", "align": "left", "baseline": "middle", "fontSize": 25, "color": "#c8cbd3", "text": "ЗАКР"}, "encoding": {"x": {"datum": {"year": 2024, "month": 9, "date": 18, "hours": 13, "minutes": 51, "utc": true}, "type": "temporal"}, "y": {"datum": 109684}}},
            {"data": {"values": [{}]}, "mark": {"type": "text", "align": "left", "baseline": "middle", "fontSize": 25, "color": "#f7525f", "text": "98120.94"}, "encoding": {"x": {"datum": {"year": 2024, "month": 9, "date": 22, "hours": 8, "minutes": 35, "utc": true}, "type": "temporal"}, "y": {"datum": 109684}}},
            {"data": {"values": [{}]}, "mark": {"type": "text", "align": "left", "baseline": "middle", "fontSize": 25, "color": "#f7525f", "text": "−542.64 (−0.55%)"}, "encoding": {"x": {"datum": {"year": 2024, "month": 9, "date": 29, "hours": 8, "minutes": 4, "utc": true}, "type": "temporal"}, "y": {"datum": 109684}}},

            {"data": {"values": [{}]}, "mark": {"type": "text", "align": "left", "baseline": "middle", "fontSize": 25, "color": "#c8cbd3", "text": "VPVR (Number Of Rows, 120, Up/Down, 70)"}, "encoding": {"x": {"datum": {"year": 2024, "month": 7, "date": 29, "hours": 14, "minutes": 35, "utc": true}, "type": "temporal"}, "y": {"datum": 107605}}},
            {"data": {"values": [{}]}, "mark": {"type": "text", "align": "left", "baseline": "middle", "fontSize": 25, "color": "#2196f3", "text": "5.141B"}, "encoding": {"x": {"datum": {"year": 2024, "month": 8, "date": 28, "hours": 6, "minutes": 23, "utc": true}, "type": "temporal"}, "y": {"datum": 107605}}},
            {"data": {"values": [{}]}, "mark": {"type": "text", "align": "left", "baseline": "middle", "fontSize": 25, "color": "#f7c325", "text": "3.737B"}, "encoding": {"x": {"datum": {"year": 2024, "month": 9, "date": 2, "hours": 10, "minutes": 32, "utc": true}, "type": "temporal"}, "y": {"datum": 107605}}},
            {"data": {"values": [{}]}, "mark": {"type": "text", "align": "left", "baseline": "middle", "fontSize": 25, "color": "#4f535e", "text": "8.878B"}, "encoding": {"x": {"datum": {"year": 2024, "month": 9, "date": 7, "hours": 16, "minutes": 58, "utc": true}, "type": "temporal"}, "y": {"datum": 107605}}},

            {"data": {"values": [{}]}, "mark": {"type": "text", "align": "left", "baseline": "middle", "fontSize": 25, "color": "#c8cbd3", "text": "MA 50+100+200 (720, 50, close, 0, 100, close, 0, 200, close, 0)"}, "encoding": {"x": {"datum": {"year": 2024, "month": 7, "date": 29, "hours": 14, "minutes": 35, "utc": true}, "type": "temporal"}, "y": {"datum": 105557}}},
            {"data": {"values": [{}]}, "mark": {"type": "text", "align": "left", "baseline": "middle", "fontSize": 25, "color": "#c8cbd3", "text": "94.603K"}, "encoding": {"x": {"datum": {"year": 2024, "month": 9, "date": 10, "hours": 13, "minutes": 16, "utc": true}, "type": "temporal"}, "y": {"datum": 105557}}},
            {"data": {"values": [{}]}, "mark": {"type": "text", "align": "left", "baseline": "middle", "fontSize": 25, "color": "#b22833", "text": "70.731K"}, "encoding": {"x": {"datum": {"year": 2024, "month": 9, "date": 17, "hours": 2, "minutes": 34, "utc": true}, "type": "temporal"}, "y": {"datum": 105557}}},

            {"data": {"values": [{}]}, "mark": {"type": "rect", "color": "#f7525f", "cornerRadius": 4}, "encoding": {"x": {"datum": {"year": 2025, "month": 1, "date": 23, "hours": 18, "minutes": 24, "utc": true}, "type": "temporal"}, "x2": {"datum": {"year": 2025, "month": 2, "date": 1, "utc": true}}, "y": {"datum": 99223}, "y2": {"datum": 97112}}},
            {"data": {"values": [{}]}, "mark": {"type": "text", "align": "center", "baseline": "middle", "fontSize": 26, "color": "#ffffff", "text": "98120.94"}, "encoding": {"x": {"datum": {"year": 2025, "month": 1, "date": 27, "hours": 21, "utc": true}, "type": "temporal"}, "y": {"datum": 98168}}},
            {"data": {"values": [{}]}, "mark": {"type": "rect", "color": "#ff0000", "cornerRadius": 4}, "encoding": {"x": {"datum": {"year": 2025, "month": 1, "date": 23, "hours": 18, "minutes": 24, "utc": true}, "type": "temporal"}, "x2": {"datum": {"year": 2025, "month": 2, "date": 1, "utc": true}}, "y": {"datum": 97054}, "y2": {"datum": 94937}}},
            {"data": {"values": [{}]}, "mark": {"type": "text", "align": "center", "baseline": "middle", "fontSize": 26, "color": "#ffffff", "text": "97224.31"}, "encoding": {"x": {"datum": {"year": 2025, "month": 1, "date": 27, "hours": 21, "utc": true}, "type": "temporal"}, "y": {"datum": 95995}}},
            {"data": {"values": [{}]}, "mark": {"type": "rect", "color": "#b2b5be", "cornerRadius": 4}, "encoding": {"x": {"datum": {"year": 2025, "month": 1, "date": 6, "hours": 17, "minutes": 46, "utc": true}, "type": "temporal"}, "x2": {"datum": {"year": 2025, "month": 1, "date": 23, "hours": 15, "minutes": 36, "utc": true}}, "y": {"datum": 94879}, "y2": {"datum": 92761}}},
            {"data": {"values": [{}]}, "mark": {"type": "text", "align": "center", "baseline": "middle", "fontSize": 26, "color": "#131722", "text": "MA 50+100+200:MA50"}, "encoding": {"x": {"datum": {"year": 2025, "month": 1, "date": 15, "hours": 4, "minutes": 48, "utc": true}, "type": "temporal"}, "y": {"datum": 93820}}},
            {"data": {"values": [{}]}, "mark": {"type": "rect", "color": "#b2b5be", "cornerRadius": 4}, "encoding": {"x": {"datum": {"year": 2025, "month": 1, "date": 23, "hours": 18, "minutes": 24, "utc": true}, "type": "temporal"}, "x2": {"datum": {"year": 2025, "month": 2, "date": 1, "utc": true}}, "y": {"datum": 94879}, "y2": {"datum": 92761}}},
            {"data": {"values": [{}]}, "mark": {"type": "text", "align": "center", "baseline": "middle", "fontSize": 26, "color": "#131722", "text": "94603.24"}, "encoding": {"x": {"datum": {"year": 2025, "month": 1, "date": 27, "hours": 21, "utc": true}, "type": "temporal"}, "y": {"datum": 93820}}},
            {"data": {"values": [{}]}, "mark": {"type": "rect", "color": "#b22833", "cornerRadius": 4}, "encoding": {"x": {"datum": {"year": 2025, "month": 1, "date": 5, "hours": 18, "minutes": 58, "utc": true}, "type": "temporal"}, "x2": {"datum": {"year": 2025, "month": 1, "date": 23, "hours": 15, "minutes": 7, "utc": true}}, "y": {"datum": 71846}, "y2": {"datum": 69735}}},
            {"data": {"values": [{}]}, "mark": {"type": "text", "align": "center", "baseline": "middle", "fontSize": 26, "color": "#ffffff", "text": "MA 50+100+200:MA200"}, "encoding": {"x": {"datum": {"year": 2025, "month": 1, "date": 14, "hours": 17, "minutes": 2, "utc": true}, "type": "temporal"}, "y": {"datum": 70790}}},
            {"data": {"values": [{}]}, "mark": {"type": "rect", "color": "#b22833", "cornerRadius": 4}, "encoding": {"x": {"datum": {"year": 2025, "month": 1, "date": 23, "hours": 18, "minutes": 24, "utc": true}, "type": "temporal"}, "x2": {"datum": {"year": 2025, "month": 2, "date": 1, "utc": true}}, "y": {"datum": 71846}, "y2": {"datum": 69735}}},
            {"data": {"values": [{}]}, "mark": {"type": "text", "align": "center", "baseline": "middle", "fontSize": 26, "color": "#ffffff", "text": "70730.87"}, "encoding": {"x": {"datum": {"year": 2025, "month": 1, "date": 27, "hours": 21, "utc": true}, "type": "temporal"}, "y": {"datum": 70790}}},

            {"data": {"values": [{}]}, "mark": {"type": "rule", "color": "#2a2e39", "strokeWidth": 2}, "encoding": {"x": {"datum": {"year": 2025, "month": 1, "date": 23, "hours": 18, "minutes": 24, "utc": true}, "type": "temporal"}, "x2": {"datum": {"year": 2025, "month": 2, "date": 2, "hours": 8, "minutes": 24, "utc": true}}, "y": {"datum": 112032}}},
            {"data": {"values": [{}]}, "mark": {"type": "rule", "color": "#2a2e39", "strokeWidth": 2}, "encoding": {"x": {"datum": {"year": 2025, "month": 1, "date": 23, "hours": 18, "minutes": 24, "utc": true}, "type": "temporal"}, "x2": {"datum": {"year": 2025, "month": 2, "date": 2, "hours": 8, "minutes": 24, "utc": true}}, "y": {"datum": 45321}}},

            {"data": {"values": [{}]}, "mark": {"type": "rect", "color": "#1e222d"}, "encoding": {"x": {"datum": {"year": 2024, "month": 7, "date": 27, "hours": 9, "minutes": 40, "utc": true}, "type": "temporal"}, "x2": {"datum": {"year": 2025, "month": 2, "date": 3, "hours": 14, "minutes": 1, "utc": true}}, "y": {"datum": 113267}, "y2": {"datum": 112032}}},
            {"data": {"values": [{}]}, "mark": {"type": "rect", "color": "#1e222d"}, "encoding": {"x": {"datum": {"year": 2024, "month": 7, "date": 27, "hours": 9, "minutes": 40, "utc": true}, "type": "temporal"}, "x2": {"datum": {"year": 2025, "month": 2, "date": 3, "hours": 14, "minutes": 1, "utc": true}}, "y": {"datum": 12179}, "y2": {"datum": 7700.6}}},
            {"data": {"values": [{}]}, "mark": {"type": "rect", "color": "#1e222d"}, "encoding": {"x": {"datum": {"year": 2024, "month": 7, "date": 27, "hours": 9, "minutes": 40, "utc": true}, "type": "temporal"}, "x2": {"datum": {"year": 2024, "month": 7, "date": 28, "hours": 13, "minutes": 11, "utc": true}}, "y": {"datum": 113267}, "y2": {"datum": 7700.6}}},
            {"data": {"values": [{}]}, "mark": {"type": "rect", "color": "#1e222d"}, "encoding": {"x": {"datum": {"year": 2025, "month": 2, "date": 2, "hours": 8, "minutes": 24, "utc": true}, "type": "temporal"}, "x2": {"datum": {"year": 2025, "month": 2, "date": 3, "hours": 14, "minutes": 1, "utc": true}}, "y": {"datum": 113267}, "y2": {"datum": 7700.6}}},

            {"data": {"values": [{}]}, "mark": {"type": "text", "align": "left", "baseline": "middle", "fontSize": 34, "fontWeight": 900, "color": "#d1d4dc", "text": "17"}, "encoding": {"x": {"datum": {"year": 2024, "month": 7, "date": 28, "hours": 13, "minutes": 53, "utc": true}, "type": "temporal"}, "y": {"datum": 9940}}},
            {"data": {"values": [{}]}, "mark": {"type": "text", "align": "left", "baseline": "middle", "fontSize": 27, "fontWeight": 500, "color": "#d1d4dc", "text": "TradingView"}, "encoding": {"x": {"datum": {"year": 2024, "month": 7, "date": 31, "hours": 9, "minutes": 11, "utc": true}, "type": "temporal"}, "y": {"datum": 9940}}}
          ]
        }
      ]
    },
    {
      "width": 3048.5,
      "height": 212.5,
      "layer": [
        {
          "data": {"name": "daily"},
          "mark": {"type": "bar", "width": 14.8, "clip": true},
          "encoding": {
            "x": {"field": "d", "type": "temporal",
              "scale": {"type": "utc", "nice": false, "domain": [{"year": 2024, "month": 7, "date": 28, "hours": 13, "minutes": 11, "utc": true}, {"year": 2025, "month": 1, "date": 23, "hours": 18, "minutes": 24, "utc": true}]},
              "axis": {"title": null, "labels": false, "grid": true, "values": [
                {"year": 2024, "month": 8, "date": 1, "utc": true}, {"year": 2024, "month": 8, "date": 11, "utc": true}, {"year": 2024, "month": 8, "date": 21, "utc": true},
                {"year": 2024, "month": 9, "date": 1, "utc": true}, {"year": 2024, "month": 9, "date": 11, "utc": true}, {"year": 2024, "month": 9, "date": 21, "utc": true},
                {"year": 2024, "month": 10, "date": 1, "utc": true}, {"year": 2024, "month": 10, "date": 11, "utc": true}, {"year": 2024, "month": 10, "date": 21, "utc": true},
                {"year": 2024, "month": 11, "date": 1, "utc": true}, {"year": 2024, "month": 11, "date": 11, "utc": true}, {"year": 2024, "month": 11, "date": 21, "utc": true},
                {"year": 2024, "month": 12, "date": 1, "utc": true}, {"year": 2024, "month": 12, "date": 11, "utc": true}, {"year": 2024, "month": 12, "date": 21, "utc": true},
                {"year": 2025, "month": 1, "date": 1, "utc": true}, {"year": 2025, "month": 1, "date": 11, "utc": true}, {"year": 2025, "month": 1, "date": 21, "utc": true}]}},
            "y": {"field": "v", "type": "quantitative", "scale": {"domain": [0, 12.45], "nice": false, "zero": false},
              "axis": {"title": null, "orient": "right", "grid": true, "labelPadding": 17, "values": [4, 8, 12], "labelExpr": "datum.value + 'B'"}},
            "fill": {"condition": {"test": "datum.c >= datum.o", "value": "#1e6259"}, "value": "#8a3342"}
          }
        },
        {"data": {"values": [{}]}, "mark": {"type": "rect", "color": "#f7525f", "cornerRadius": 4}, "encoding": {"x": {"datum": {"year": 2025, "month": 1, "date": 17, "hours": 15, "minutes": 36, "utc": true}, "type": "temporal"}, "x2": {"datum": {"year": 2025, "month": 1, "date": 23, "hours": 15, "minutes": 7, "utc": true}}, "y": {"datum": 1.986}, "y2": {"datum": 0.07}}},
        {"data": {"values": [{}]}, "mark": {"type": "text", "align": "center", "baseline": "middle", "fontSize": 26, "color": "#ffffff", "text": "Volume"}, "encoding": {"x": {"datum": {"year": 2025, "month": 1, "date": 20, "hours": 15, "minutes": 22, "utc": true}, "type": "temporal"}, "y": {"datum": 1.025}}},
        {"data": {"values": [{}]}, "mark": {"type": "rect", "color": "#f7525f", "cornerRadius": 4}, "encoding": {"x": {"datum": {"year": 2025, "month": 1, "date": 23, "hours": 18, "minutes": 24, "utc": true}, "type": "temporal"}, "x2": {"datum": {"year": 2025, "month": 2, "date": 1, "hours": 7, "minutes": 26, "utc": true}}, "y": {"datum": 1.986}, "y2": {"datum": 0.07}}},
        {"data": {"values": [{}]}, "mark": {"type": "text", "align": "center", "baseline": "middle", "fontSize": 26, "color": "#ffffff", "text": "386.502M"}, "encoding": {"x": {"datum": {"year": 2025, "month": 1, "date": 28, "hours": 0, "minutes": 43, "utc": true}, "type": "temporal"}, "y": {"datum": 1.025}}},
        {"data": {"values": [{}]}, "mark": {"type": "text", "align": "left", "baseline": "middle", "fontSize": 25, "color": "#c8cbd3", "text": "Объём (SMA, 9)"}, "encoding": {"x": {"datum": {"year": 2024, "month": 7, "date": 29, "hours": 14, "minutes": 35, "utc": true}, "type": "temporal"}, "y": {"datum": 10.224}}},
        {"data": {"values": [{}]}, "mark": {"type": "text", "align": "left", "baseline": "middle", "fontSize": 25, "color": "#f7525f", "text": "386.502M"}, "encoding": {"x": {"datum": {"year": 2024, "month": 8, "date": 10, "hours": 7, "minutes": 5, "utc": true}, "type": "temporal"}, "y": {"datum": 10.224}}},
        {"data": {"values": [{}]}, "mark": {"type": "rule", "color": "#2a2e39", "strokeWidth": 2}, "encoding": {"x": {"datum": {"year": 2025, "month": 1, "date": 23, "hours": 18, "minutes": 24, "utc": true}, "type": "temporal"}, "x2": {"datum": {"year": 2025, "month": 2, "date": 2, "hours": 8, "minutes": 24, "utc": true}}, "y": {"datum": 0}}}
      ]
    },
    {
      "width": 3048.5,
      "height": 250.5,
      "layer": [
        {"data": {"values": [{}]}, "mark": {"type": "rect", "color": "#7e57c2", "opacity": 0.1}, "encoding": {"x": {"datum": {"year": 2024, "month": 7, "date": 28, "hours": 13, "minutes": 11, "utc": true}, "type": "temporal"}, "x2": {"datum": {"year": 2025, "month": 1, "date": 23, "hours": 18, "minutes": 24, "utc": true}}, "y": {"datum": 70}, "y2": {"datum": 30}}},
        {"data": {"values": [{}]}, "mark": {"type": "rule", "color": "#787b86", "strokeWidth": 2, "strokeDash": [11, 10]}, "encoding": {"y": {"datum": 70}}},
        {"data": {"values": [{}]}, "mark": {"type": "rule", "color": "#787b86", "strokeWidth": 2, "strokeDash": [11, 10]}, "encoding": {"y": {"datum": 50}}},
        {"data": {"values": [{}]}, "mark": {"type": "rule", "color": "#787b86", "strokeWidth": 2, "strokeDash": [11, 10]}, "encoding": {"y": {"datum": 30}}},
        {
          "data": {"name": "daily"},
          "mark": {"type": "line", "color": "#7e57c2", "strokeWidth": 2.5, "clip": true},
          "encoding": {
            "x": {"field": "d", "type": "temporal",
              "scale": {"type": "utc", "nice": false, "domain": [{"year": 2024, "month": 7, "date": 28, "hours": 13, "minutes": 11, "utc": true}, {"year": 2025, "month": 1, "date": 23, "hours": 18, "minutes": 24, "utc": true}]},
              "axis": {"title": null, "orient": "bottom", "grid": true, "labelPadding": 15,
                "labelExpr": "utcdate(datum.value) == 1 ? (utcmonth(datum.value) == 0 ? utcFormat(datum.value, '%Y') : ['Янв','Фев','Мар','Апр','Май','Июн','Июл','Авг','Сен','Окт','Ноя','Дек'][utcmonth(datum.value)]) : '' + utcdate(datum.value)",
                "labelFontWeight": {"condition": {"test": "utcmonth(datum.value) == 0 && utcdate(datum.value) == 1", "value": "bold"}, "value": "normal"},
                "values": [
                {"year": 2024, "month": 8, "date": 1, "utc": true}, {"year": 2024, "month": 8, "date": 11, "utc": true}, {"year": 2024, "month": 8, "date": 21, "utc": true},
                {"year": 2024, "month": 9, "date": 1, "utc": true}, {"year": 2024, "month": 9, "date": 11, "utc": true}, {"year": 2024, "month": 9, "date": 21, "utc": true},
                {"year": 2024, "month": 10, "date": 1, "utc": true}, {"year": 2024, "month": 10, "date": 11, "utc": true}, {"year": 2024, "month": 10, "date": 21, "utc": true},
                {"year": 2024, "month": 11, "date": 1, "utc": true}, {"year": 2024, "month": 11, "date": 11, "utc": true}, {"year": 2024, "month": 11, "date": 21, "utc": true},
                {"year": 2024, "month": 12, "date": 1, "utc": true}, {"year": 2024, "month": 12, "date": 11, "utc": true}, {"year": 2024, "month": 12, "date": 21, "utc": true},
                {"year": 2025, "month": 1, "date": 1, "utc": true}, {"year": 2025, "month": 1, "date": 11, "utc": true}, {"year": 2025, "month": 1, "date": 21, "utc": true}]}},
            "y": {"field": "r", "type": "quantitative", "scale": {"domain": [24.04, 88.96], "nice": false, "zero": false},
              "axis": {"title": null, "orient": "right", "grid": true, "format": ".2f", "labelPadding": 17, "values": [40, 60, 80]}}
          }
        },
        {"data": {"values": [{}]}, "mark": {"type": "rect", "color": "#7e57c2", "cornerRadius": 4}, "encoding": {"x": {"datum": {"year": 2025, "month": 1, "date": 19, "hours": 21, "minutes": 22, "utc": true}, "type": "temporal"}, "x2": {"datum": {"year": 2025, "month": 1, "date": 23, "hours": 15, "minutes": 7, "utc": true}}, "y": {"datum": 55.66}, "y2": {"datum": 46.85}}},
        {"data": {"values": [{}]}, "mark": {"type": "text", "align": "center", "baseline": "middle", "fontSize": 26, "color": "#ffffff", "text": "Plot"}, "encoding": {"x": {"datum": {"year": 2025, "month": 1, "date": 21, "hours": 18, "minutes": 14, "utc": true}, "type": "temporal"}, "y": {"datum": 51.26}}},
        {"data": {"values": [{}]}, "mark": {"type": "rect", "color": "#7e57c2", "cornerRadius": 4}, "encoding": {"x": {"datum": {"year": 2025, "month": 1, "date": 23, "hours": 18, "minutes": 24, "utc": true}, "type": "temporal"}, "x2": {"datum": {"year": 2025, "month": 1, "date": 29, "hours": 6, "minutes": 14, "utc": true}}, "y": {"datum": 55.66}, "y2": {"datum": 46.85}}},
        {"data": {"values": [{}]}, "mark": {"type": "text", "align": "center", "baseline": "middle", "fontSize": 26, "color": "#ffffff", "text": "51.38"}, "encoding": {"x": {"datum": {"year": 2025, "month": 1, "date": 26, "hours": 12, "minutes": 14, "utc": true}, "type": "temporal"}, "y": {"datum": 51.26}}},
        {"data": {"values": [{}]}, "mark": {"type": "text", "align": "left", "baseline": "middle", "fontSize": 25, "color": "#c8cbd3", "text": "RSI (14, SMA, 14)"}, "encoding": {"x": {"datum": {"year": 2024, "month": 7, "date": 29, "hours": 14, "minutes": 35, "utc": true}, "type": "temporal"}, "y": {"datum": 79.32}}},
        {"data": {"values": [{}]}, "mark": {"type": "text", "align": "left", "baseline": "middle", "fontSize": 25, "color": "#7e57c2", "text": "51.38"}, "encoding": {"x": {"datum": {"year": 2024, "month": 8, "date": 10, "hours": 19, "minutes": 54, "utc": true}, "type": "temporal"}, "y": {"datum": 79.32}}},
        {"data": {"values": [{}]}, "mark": {"type": "rule", "color": "#2a2e39", "strokeWidth": 2}, "encoding": {"x": {"datum": {"year": 2025, "month": 1, "date": 23, "hours": 18, "minutes": 24, "utc": true}, "type": "temporal"}, "x2": {"datum": {"year": 2025, "month": 2, "date": 2, "hours": 8, "minutes": 24, "utc": true}}, "y": {"datum": 24.04}}}
      ]
    }
  ]
}
